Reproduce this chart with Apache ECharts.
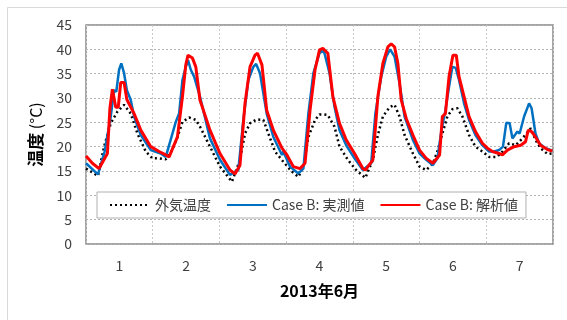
<!DOCTYPE html>
<html><head><meta charset="utf-8">
<script src="https://cdn.jsdelivr.net/npm/echarts@6/dist/echarts.min.js"></script>
<style>html,body{margin:0;padding:0;background:#fff}#c{width:567px;height:320px}</style>
</head><body><div id="c"></div>
<script>
// hours from start of 2013-06-01, temperature in °C
var dayLabels = ['1','2','3','4','5','6','7'];
var outdoorData = [[0,15.5],[4.3,14],[6.5,20],[8.9,24.8],[11.3,27.2],[13.7,28.6],[16.1,26.8],[18.5,22.7],[21.5,19],[23.9,17.6],[26.3,17.6],[28.7,17.4],[31,19.3],[32.9,22],[34.7,25.1],[37.1,26],[39.5,25.5],[41.3,23.8],[44.6,20],[48.2,15.9],[52.5,12.8],[55.4,17.3],[57.2,22.7],[59,24.8],[61.4,25.6],[63.8,25.5],[65.6,22.7],[68,19],[71,16.9],[74,14.9],[76.4,13.8],[78.2,15.9],[80,22],[82.4,25.5],[84,26.6],[85.6,26.6],[87,26.5],[89.4,24.1],[91.2,20],[94.2,17.3],[97.2,15.2],[100.5,13.6],[103.2,17.3],[105,22.4],[106.8,26.2],[109.2,28.1],[111,28.6],[112.8,26.2],[114.6,22.4],[117.6,18.6],[120,15.9],[122.4,15.2],[124.8,16.6],[126.4,19],[128.2,22.7],[130,26.2],[131.8,27.7],[133.6,27.9],[135.4,26.2],[137.8,22.4],[140.1,20],[142.6,19],[145,17.9],[147.8,17.9],[149.8,19],[152.2,20.7],[154.6,20.3],[157,21.7],[160,23.8],[161.7,21.4],[163.5,19.7],[166,18.5],[167.8,18.6]];
var measuredData = [[0,16.6],[4.3,14.3],[6.7,19],[8.9,26.2],[10.1,31.6],[10.9,31.3],[11.9,35.8],[12.7,37.1],[13.7,35.1],[14.7,31.6],[16.1,29.6],[17.3,26.2],[19.7,22.4],[23.3,19.3],[26.9,18.6],[28.7,17.9],[32.3,25.1],[33.5,26.8],[34.7,33.7],[35.9,36.4],[36.7,37.8],[37.7,35.8],[38.9,34.4],[41,30.3],[44.6,21.7],[48.2,17.3],[51.8,14.2],[52.5,14],[54.8,15.2],[56.6,25.5],[58.4,33.7],[60.2,36.4],[61.2,37],[62.6,35.1],[65,26.8],[67.4,22],[70.5,18.3],[71,19],[73.4,15.9],[76.4,14.5],[78.2,15.5],[80,26.8],[81.8,35.1],[84,39.2],[85,39.7],[85.8,39.2],[87.6,35.1],[89.4,28.2],[91.2,23.4],[93.6,20.3],[96.6,17.6],[99.6,15.2],[100.1,15],[102.6,16.6],[104.1,26.8],[106.2,34.4],[108,38.5],[109.4,40],[111,38.5],[112.8,33],[114.6,26.2],[117.6,21.4],[120,18.6],[122.4,17.3],[124.8,16.2],[126.4,17.6],[127.9,23.4],[129.3,27.5],[130.6,32.3],[131.8,36.4],[133,36.2],[134.2,33.7],[136,28.9],[137.8,25.5],[140.1,22.4],[142.6,20.3],[145,19],[146.8,19],[148.6,19.3],[150,20],[151.2,24.9],[152.4,24.8],[153.4,21.7],[154.3,22.4],[155.2,23.1],[156,22.7],[157.6,26.2],[159.4,28.9],[160.3,27.9],[161.7,22.7],[163,20.7],[165.3,19.7],[167.8,19.2]];
var analysisData = [[0,18.1],[2.3,16.6],[4.7,15.5],[7.7,18.6],[8.6,27.9],[9.5,31.8],[10.7,28.1],[11.6,28.1],[12.5,33.2],[13.7,33.2],[14.7,29.7],[17.3,26.8],[19.7,23.4],[23.3,20],[26.3,19],[28.7,18.3],[29.9,17.9],[32.9,22],[34.7,30.3],[35.9,36.8],[36.7,38.8],[38.3,38.2],[39.5,36.4],[41,29.6],[44.6,23.4],[48.2,18.6],[51.8,15.2],[53.6,14.4],[55.4,16.2],[57.2,28.9],[59,36.4],[60.8,38.8],[61.7,39.2],[63.3,36.8],[65,27.5],[67.4,23.4],[70.5,19.7],[72.3,18.3],[74.6,15.9],[77,15.5],[78.8,16.6],[80.6,27.5],[82.4,35.8],[84,39.9],[85.2,40.2],[85.8,40.3],[87,39.2],[88.8,30.3],[91.2,24.8],[93.6,21.4],[96.6,18.6],[99.6,15.5],[100.5,15.2],[103.2,17.3],[105,30.3],[106.8,37.1],[108.6,40.5],[109.8,41.1],[111,40.5],[112.2,37.1],[113.4,29.6],[115.2,25.8],[117.6,22.4],[120,19.3],[122.4,17.6],[124.8,16.6],[127.2,18.3],[128.2,26.2],[129.3,26.8],[130.6,34.4],[132,38.8],[133.2,38.8],[134.2,34.4],[136,30.3],[137.8,26.2],[140.1,23.1],[142.6,20.7],[144.4,19.7],[146.2,19],[148.6,18.6],[149.8,18.3],[151.6,19.3],[154,20],[156.4,20.3],[158.1,21],[159.1,23.4],[160.3,23.1],[161.7,22],[163.5,20.3],[166,19.4],[167.8,19.1]];
var seriesNames = ['外気温度', 'Case B: 実測値', 'Case B: 解析値'];

var FONT = '"Noto Sans CJK JP", "Noto Sans", sans-serif';
var chart = echarts.init(document.getElementById('c'), null, {renderer: 'canvas'});
chart.setOption({
  animation: false,
  backgroundColor: '#fff',
  textStyle: {fontFamily: FONT},
  graphic: [{type: 'rect', shape: {x: 7.5, y: 7.5, width: 600, height: 400}, style: {fill: 'none', stroke: '#d9d9d9', lineWidth: 1}, z: -10}],
  grid: {left: 86, top: 25, right: 14, bottom: 76, show: true, borderColor: '#888', borderWidth: 1.5, backgroundColor: 'transparent'},
  legend: {
    left: 97, top: 192, padding: [6, 8, 6, 12], itemGap: 15, itemWidth: 40, itemHeight: 10,
    backgroundColor: '#fff', borderColor: '#b0b0b0', borderWidth: 1,
    itemStyle: {color: 'transparent', borderColor: 'transparent', borderWidth: 0, opacity: 0},
    textStyle: {fontSize: 14, color: '#404040', fontFamily: FONT},
    data: seriesNames
  },
  xAxis: [{
    type: 'value', min: 0, max: 168, interval: 24,
    axisLabel: {show: false}, axisTick: {show: false}, axisLine: {show: false},
    splitLine: {show: true, lineStyle: {color: '#c8c8c8', type: [2, 2], width: 1}}
  }, {
    type: 'category', data: dayLabels, boundaryGap: true, position: 'bottom',
    axisLine: {show: false}, axisTick: {show: false}, splitLine: {show: false},
    axisLabel: {fontSize: 14, color: '#404040', margin: 15, fontFamily: FONT},
    name: '2013年6月', nameLocation: 'middle', nameGap: 39,
    nameTextStyle: {fontSize: 16, fontWeight: 'bold', color: '#000', fontFamily: FONT}
  }],
  yAxis: {
    type: 'value', min: 0, max: 45, interval: 5,
    axisLine: {show: false}, axisTick: {show: false},
    axisLabel: {fontSize: 14, color: '#404040', margin: 14, fontFamily: FONT},
    splitLine: {show: true, lineStyle: {color: '#b4b4b4', type: [2, 2], width: 1}},
    name: '{b|温度}{n| (°C)}', nameLocation: 'middle', nameGap: 42,
    nameTextStyle: {rich: {b: {fontSize: 17, fontWeight: 'bold', color: '#000', fontFamily: FONT}, n: {fontSize: 16, color: '#000', fontFamily: FONT}}}
  },
  series: [{
    name: seriesNames[0], type: 'line', data: outdoorData, xAxisIndex: 0, symbol: 'none',
    lineStyle: {color: '#000', width: 2.5, type: [2, 3], cap: 'butt'}, itemStyle: {color: '#000'}
  }, {
    name: seriesNames[1], type: 'line', data: measuredData, xAxisIndex: 0, symbol: 'none',
    lineStyle: {color: '#0070C0', width: 2.5}, itemStyle: {color: '#0070C0'}
  }, {
    name: seriesNames[2], type: 'line', data: analysisData, xAxisIndex: 0, symbol: 'none',
    lineStyle: {color: '#FF0000', width: 3}, itemStyle: {color: '#FF0000'}
  }]
});
</script></body></html>
